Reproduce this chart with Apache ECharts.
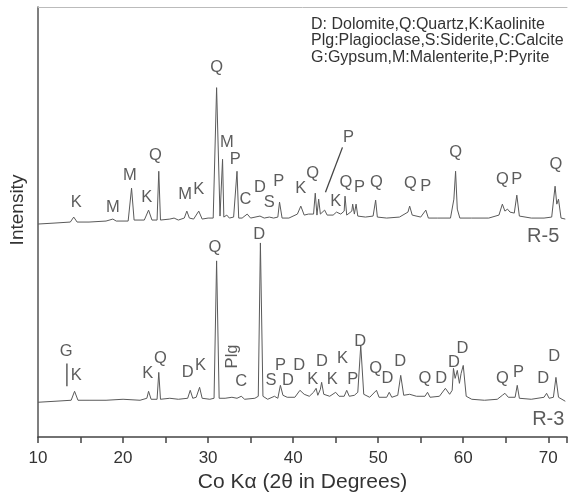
<!DOCTYPE html>
<html>
<head>
<meta charset="utf-8">
<script src="https://cdn.jsdelivr.net/npm/echarts@6/dist/echarts.min.js"></script>
<style>
  html, body { margin: 0; padding: 0; background: #fff; }
  #chart { width: 570px; height: 498px; }
</style>
</head>
<body>
<div id="chart"></div>
<script>
// XRD patterns, [2theta, intensity (a.u.)]
var traceR5 = [
    [10, 214], [12, 215], [13.8, 216], [14.2, 221], [14.6, 216], [16, 216], [18, 217], [18.8, 219], [19.2, 217],
    [20.6, 217], [21.0, 250], [21.3, 218], [22.5, 218], [23.0, 228], [23.4, 218], [24.0, 218], [24.2, 267],
    [24.4, 218], [25.5, 219], [26, 220], [26.5, 218], [27.2, 220], [27.5, 227], [27.8, 220], [28.3, 219],
    [28.9, 227], [29.3, 219], [30, 220], [30.6, 220], [31.0, 351], [31.4, 222], [31.6, 220], [31.7, 279],
    [31.85, 221], [32.2, 223], [32.5, 220], [33.0, 221], [33.4, 267], [33.6, 220], [34.0, 220], [34.6, 224],
    [35, 220], [36.1, 222], [36.6, 220], [37.2, 221], [37.7, 220], [38.2, 221], [38.4, 236], [38.7, 220],
    [39.5, 220], [40.5, 224], [40.9, 232], [41.3, 223], [41.8, 224], [42.4, 224], [42.6, 245], [42.8, 223],
    [43.0, 239], [43.2, 224], [43.7, 228], [44, 223], [44.7, 223], [45.1, 226], [45.6, 224], [46.0, 227],
    [46.1, 242], [46.3, 223], [46.9, 227], [47.0, 234], [47.2, 224], [47.4, 234], [47.6, 222], [48.5, 221],
    [49.4, 222], [49.7, 238], [49.9, 221], [51, 220], [52.5, 221], [53.5, 226], [53.7, 232], [54, 223],
    [55, 221], [55.6, 228], [55.9, 220], [57, 220], [58.5, 220], [58.9, 239], [59.1, 267], [59.3, 229],
    [59.6, 220], [61, 220], [63, 220], [64.2, 223], [64.6, 234], [64.9, 227], [65.2, 229], [65.5, 226],
    [66.0, 225], [66.3, 243], [66.6, 222], [68, 220], [69.5, 220], [70.4, 221], [70.8, 252], [71.0, 234],
    [71.2, 239], [71.5, 220], [72, 219]
];
var traceR3 = [
    [10, 35], [12, 36], [13.9, 37], [14.3, 46], [14.7, 37], [16, 37], [18, 37], [20, 38], [22, 37], [22.8, 39],
    [23.0, 46], [23.3, 38], [24.0, 38], [24.2, 65], [24.4, 38], [25.5, 39], [26.5, 38], [27.6, 39], [27.9, 47],
    [28.2, 39], [28.6, 40], [29.0, 50], [29.3, 39], [30.2, 38], [30.7, 39], [31.0, 177], [31.3, 39], [32, 39],
    [32.8, 40], [33.4, 39], [33.9, 41], [34.3, 38], [35.5, 39], [35.9, 41], [36.15, 195], [36.45, 41], [37, 38],
    [37.8, 41], [38.2, 39], [38.5, 52], [38.8, 42], [39.0, 44], [39.3, 40], [40.2, 40], [40.8, 47], [41.3, 43],
    [41.9, 41], [42.4, 45], [42.7, 49], [42.9, 42], [43.2, 48], [43.35, 55], [43.6, 43], [44.3, 41], [45, 45],
    [45.4, 41], [46.0, 41], [46.3, 47], [46.6, 41], [47.2, 42], [47.6, 45], [47.95, 92], [48.3, 43], [49, 40],
    [49.8, 47], [50.1, 40], [51.0, 40], [51.3, 45], [51.6, 40], [52.3, 42], [52.65, 62], [53.0, 42], [53.7, 43],
    [54.5, 41], [55.5, 41], [55.8, 45], [56.1, 40], [57.2, 41], [57.9, 49], [58.4, 43], [58.7, 47], [58.85, 69],
    [59.05, 59], [59.3, 67], [59.55, 54], [59.75, 64], [60.0, 72], [60.35, 41], [61, 38], [62.5, 37], [64, 38],
    [64.6, 42], [64.9, 44], [65.3, 40], [66.1, 40], [66.35, 52], [66.6, 39], [68, 38], [69.5, 40], [69.8, 44],
    [70.1, 39], [70.6, 40], [70.9, 60], [71.2, 40], [72, 36]
];

// phase labels, [2theta, intensity, text]
var labelsR5 = [
    [14.5, 236, 'K'], [18.8, 231, 'M'], [20.8, 263, 'M'], [22.8, 241, 'K'], [23.8, 283, 'Q'], [27.3, 244, 'M'],
    [28.9, 249, 'K'], [31.0, 371, 'Q'], [32.2, 296, 'M'], [33.2, 279, 'P'], [34.4, 239, 'C'], [36.1, 251, 'D'],
    [37.2, 236, 'S'], [38.3, 257, 'P'], [40.9, 250, 'K'], [42.3, 265, 'Q'], [46.5, 301, 'P'], [45.0, 237, 'K'],
    [46.2, 256, 'Q'], [47.8, 251, 'P'], [49.8, 256, 'Q'], [53.8, 255, 'Q'], [55.6, 252, 'P'], [59.1, 286, 'Q'],
    [64.6, 259, 'Q'], [66.3, 259, 'P'], [70.9, 274, 'Q']
];
var labelsR3 = [
    [13.3, 86, 'G'], [14.5, 62, 'K'], [22.9, 64, 'K'], [24.4, 79, 'Q'], [27.6, 65, 'D'], [29.1, 72, 'K'],
    [30.8, 190, 'Q'], [36.0, 204, 'D'], [33.9, 56, 'C'], [37.4, 57, 'S'], [38.5, 72, 'P'], [39.4, 57, 'D'],
    [40.7, 72, 'D'], [42.3, 58, 'K'], [43.4, 76, 'D'], [44.6, 58, 'K'], [45.8, 79, 'K'], [47.0, 58, 'P'],
    [47.9, 96, 'D'], [49.7, 69, 'Q'], [51.1, 59, 'D'], [52.6, 76, 'D'], [55.5, 59, 'Q'], [57.4, 59, 'D'],
    [58.9, 75, 'D'], [59.9, 89, 'D'], [64.6, 59, 'Q'], [66.5, 65, 'P'], [69.4, 59, 'D'], [70.7, 81, 'D']
];
var labelPlg = [[32.9, 81, 'Plg']];
var sampleNames = [[69.4, 202, 'R-5'], [70.0, 18, 'R-3']];

// leader lines
var leaderG = [[13.4, 74], [13.4, 51]];
var leaderP = [[45.8, 291], [43.8, 246]];

var legendLines = [
    'D: Dolomite,Q:Quartz,K:Kaolinite',
    'Plg:Plagioclase,S:Siderite,C:Calcite',
    'G:Gypsum,M:Malenterite,P:Pyrite'
];
var xTicks = [10, 20, 30, 40, 50, 60, 70];

var FONT = 'Liberation Sans, Arial, sans-serif';
var TXT = '#333';
var LINE = '#5a5a5a';

function traceSeries(data) {
    return {
        type: 'line', data: data, showSymbol: false, silent: true,
        lineStyle: {color: LINE, width: 1}, z: 2
    };
}
function labelSeries(data, size, rotate) {
    return {
        type: 'scatter', symbolSize: 0, silent: true, z: 3,
        data: data.map(function (d) { return {value: [d[0], d[1]], name: d[2]}; }),
        label: {
            show: true, position: 'inside', formatter: '{b}', rotate: rotate || 0,
            color: TXT, fontSize: size, fontFamily: FONT
        }
    };
}
function leaderSeries(data) {
    return {
        type: 'line', data: data, showSymbol: false, silent: true,
        lineStyle: {color: '#444', width: 1.3}, z: 2
    };
}

var chart = echarts.init(document.getElementById('chart'));
chart.setOption({
    animation: false,
    backgroundColor: '#fff',
    title: {
        text: legendLines.join('\n'),
        left: 306, top: 11,
        textStyle: {color: TXT, fontSize: 16, fontWeight: 'normal', fontFamily: FONT, lineHeight: 16.5}
    },
    graphic: [{
        type: 'text', x: 18, y: 210, rotation: Math.PI / 2,
        style: {text: 'Intensity', fill: TXT, fontSize: 19, fontFamily: FONT, align: 'center', verticalAlign: 'middle'}
    }],
    grid: {left: 38, right: 3, top: 7, bottom: 58},
    xAxis: [{
        type: 'value', min: 10, max: 72.2, interval: 10,
        name: 'Co K\u03b1 (2\u03b8 in Degrees)', nameLocation: 'middle', nameGap: 34,
        nameTextStyle: {color: TXT, fontSize: 21, fontFamily: FONT},
        axisLine: {lineStyle: {color: '#444', width: 1.5}},
        axisTick: {length: 6, lineStyle: {color: '#444', width: 1.5}},
        minorTick: {show: true, splitNumber: 2, length: 6, lineStyle: {color: '#444', width: 1.5}},
        axisLabel: {
            color: TXT, fontSize: 17, fontFamily: FONT, margin: 13,
            formatter: function (v) { return xTicks.indexOf(v) >= 0 ? v : ''; },
            showMaxLabel: false
        },
        splitLine: {show: false}
    }, {
        type: 'value', position: 'top', min: 10, max: 72.2,
        axisLine: {show: true, lineStyle: {color: '#bbb', width: 1}},
        axisTick: {show: false}, axisLabel: {show: false}, splitLine: {show: false}
    }],
    yAxis: [{
        type: 'value', min: 0, max: 432,
        axisLine: {show: true, lineStyle: {color: '#555', width: 1.5}},
        axisTick: {show: false}, axisLabel: {show: false}, splitLine: {show: false}
    }],
    series: [
        traceSeries(traceR5),
        traceSeries(traceR3),
        leaderSeries(leaderG),
        leaderSeries(leaderP),
        labelSeries(labelsR5, 16.5),
        labelSeries(labelsR3, 16.5),
        labelSeries(labelPlg, 16.5, 90),
        labelSeries(sampleNames, 20)
    ]
});
</script>
</body>
</html>
